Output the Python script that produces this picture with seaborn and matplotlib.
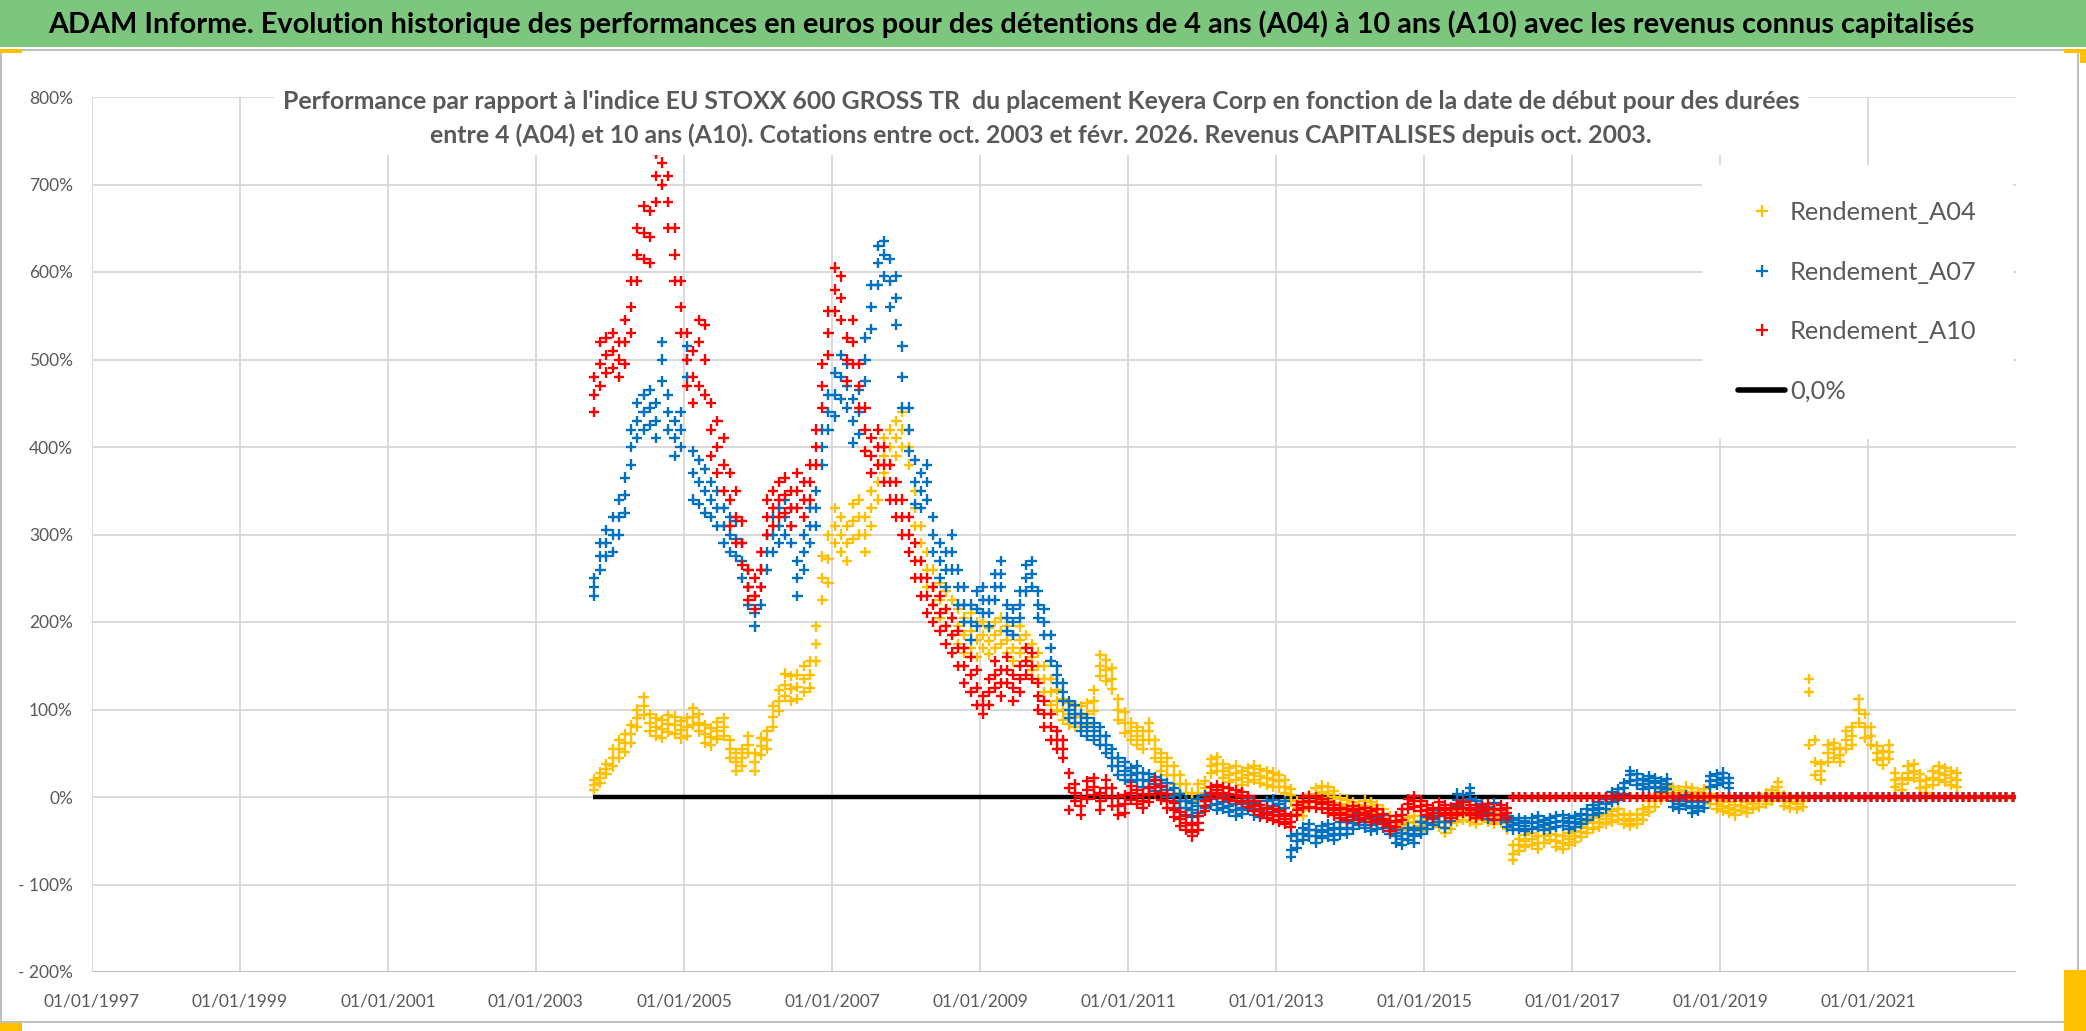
import pandas as pd
import numpy as np
import matplotlib
matplotlib.use('Agg')
import matplotlib.pyplot as plt
import matplotlib.dates as mdates
from matplotlib.lines import Line2D
from matplotlib.patches import Rectangle
import seaborn as sns

sns.set_style('white')
plt.rcParams['font.family'] = ['Lato', 'DejaVu Sans']

## textes
titre = ("ADAM Informe. Evolution historique des performances en euros pour des détentions "
         "de 4 ans (A04) à 10 ans (A10) avec les revenus connus capitalisés")
sous_titre_1 = ("Performance par rapport à l'indice EU STOXX 600 GROSS TR  du placement Keyera Corp "
                "en fonction de la date de début pour des durées")
sous_titre_2 = ("entre 4 (A04) et 10 ans (A10). Cotations entre oct. 2003 et févr. 2026. "
                "Revenus CAPITALISES depuis oct. 2003.")

## données : une valeur par mois (en %), à partir d'oct. 2003
## a0x = milieu du nuage, a0x_bas / a0x_haut = bas et haut du nuage
debut = '2003-10-01'
a04 = [14, 22, 32,
       45, 55, 62, 72, 90, 104, 85, 80, 78, 84, 82, 77,
       80, 92, 85, 72, 69, 76, 80, 55, 40, 45, 60, 40,
       58, 65, 92, 110, 128, 124, 126, 135, 140, 175, 250, 272,
       310, 300, 290, 315, 320, 300, 330, 360, 390, 400, 410, 420,
       400, 330, 290, 260, 240, 225, 215, 205, 195, 185, 190, 180,
       185, 178, 185, 190, 180, 170, 180, 170, 160, 150, 135, 120,
       110, 100, 95, 92, 92, 95, 110, 150, 145, 135, 100, 85,
       75, 70, 65, 75, 55, 40, 35, 25, 15, 5, -5, 5,
       10, 35, 38, 30, 25, 28, 22, 25, 28, 24, 22, 20,
       18, 12, 2, -12, -15, -5, 3, 6, 4, 0, -8, -10,
       -12, -15, -10, -12, -15, -20, -28, -35, -32, -30, -28, -33,
       -30, -25, -28, -35, -30, -22, -20, -22, -25, -20, -22, -25,
       -24, -30, -65, -55, -50, -48, -52, -45, -42, -50, -52, -48,
       -45, -40, -35, -30, -28, -25, -22, -20, -25, -27, -25, -20,
       -11, -5, 3, 8, 5, 2, 6, 4, 0, 3, -2, -8,
       -10, -12, -15, -10, -12, -8, -5, -2, 2, 11, -4, -6,
       -8, -5, 120, 40, 30, 50, 55, 48, 65, 70, 100, 80,
       70, 50, 45, 52, 20, 15, 28, 30, 18, 12, 22, 27,
       25, 22, 20, 0, 0, 0, 0, 0, 0, 0, 0, 0]
a04_bas = [8, 16, 26,
           35, 45, 52, 62, 80, 94, 75, 70, 68, 74, 72, 67,
           70, 82, 75, 62, 59, 66, 70, 45, 30, 35, 50, 30,
           48, 55, 80, 98, 115, 110, 112, 120, 125, 155, 225, 245,
           290, 280, 270, 295, 300, 280, 310, 340, 370, 380, 390, 400,
           380, 310, 270, 240, 220, 205, 195, 185, 175, 165, 170, 160,
           170, 163, 170, 175, 165, 155, 165, 155, 145, 135, 120, 105,
           98, 88, 83, 80, 80, 83, 98, 138, 133, 123, 88, 73,
           65, 60, 55, 65, 45, 30, 25, 15, 5, -5, -15, -5,
           2, 27, 30, 22, 17, 20, 14, 17, 20, 16, 14, 12,
           11, 5, -5, -19, -22, -12, -4, -1, -3, -7, -15, -17,
           -18, -21, -16, -18, -21, -26, -34, -41, -38, -36, -34, -39,
           -36, -31, -34, -41, -36, -28, -26, -28, -31, -26, -28, -31,
           -30, -37, -72, -62, -57, -55, -59, -52, -49, -57, -59, -55,
           -51, -46, -41, -36, -34, -31, -28, -26, -31, -33, -31, -26,
           -17, -11, -3, 2, -1, -4, 0, -2, -6, -3, -8, -14,
           -16, -18, -21, -16, -18, -14, -11, -8, -4, 5, -10, -12,
           -14, -11, 60, 25, 20, 40, 45, 40, 55, 60, 85, 68,
           60, 42, 37, 44, 12, 8, 20, 22, 10, 5, 14, 19,
           17, 14, 12, 0, 0, 0, 0, 0, 0, 0, 0, 0]
a04_haut = [20, 28, 38,
            55, 65, 72, 82, 100, 114, 95, 90, 88, 94, 92, 87,
            90, 102, 95, 82, 79, 86, 90, 65, 50, 55, 70, 50,
            68, 75, 104, 122, 141, 138, 140, 150, 155, 195, 275, 299,
            330, 320, 310, 335, 340, 320, 350, 380, 410, 420, 430, 440,
            420, 350, 310, 280, 260, 245, 235, 225, 215, 205, 210, 200,
            200, 193, 200, 205, 195, 185, 195, 185, 175, 165, 150, 135,
            122, 112, 107, 104, 104, 107, 122, 162, 157, 147, 112, 97,
            85, 80, 75, 85, 65, 50, 45, 35, 25, 15, 5, 15,
            18, 43, 46, 38, 33, 36, 30, 33, 36, 32, 30, 28,
            25, 19, 9, -5, -8, 2, 10, 13, 11, 7, -1, -3,
            -6, -9, -4, -6, -9, -14, -22, -29, -26, -24, -22, -27,
            -24, -19, -22, -29, -24, -16, -14, -16, -19, -14, -16, -19,
            -18, -23, -55, -48, -43, -41, -45, -38, -35, -43, -45, -41,
            -39, -34, -29, -24, -22, -19, -16, -14, -19, -21, -19, -14,
            -5, 1, 9, 14, 11, 8, 12, 10, 6, 9, 4, -2,
            -4, -6, -9, -4, -6, -2, 1, 4, 8, 17, 2, 0,
            -2, 1, 135, 65, 38, 60, 62, 56, 75, 80, 112, 95,
            80, 58, 53, 60, 28, 22, 36, 38, 26, 19, 30, 35,
            33, 30, 28, 0, 0, 0, 0, 0, 0, 0, 0, 0]
a07 = [240, 275, 290,
       300, 320, 345, 400, 430, 440, 445, 430, 500, 440, 410, 420,
       500, 370, 360, 350, 340, 330, 310, 300, 295, 270, 240, 210,
       240, 280, 300, 310, 320, 310, 250, 280, 310, 330, 400, 440,
       460, 480, 470, 430, 440, 500, 560, 610, 620, 590, 570, 480,
       420, 360, 350, 360, 300, 270, 260, 280, 240, 220, 200, 215,
       225, 210, 240, 255, 205, 200, 220, 250, 255, 220, 200, 170,
       140, 120, 100, 95, 85, 80, 75, 70, 60, 45, 35, 30,
       25, 28, 20, 18, 15, 12, 8, 2, -5, -12, -15, -10,
       -5, -2, -8, -6, -10, -15, -12, -8, -14, -16, -12, -10,
       -15, -12, -60, -50, -42, -38, -45, -40, -38, -42, -36, -35,
       -30, -25, -28, -32, -30, -28, -35, -45, -48, -42, -45, -35,
       -30, -25, -22, -28, -20, -3, -5, 5, -12, -15, -18, -14,
       -20, -28, -32, -30, -33, -30, -28, -32, -30, -28, -27, -30,
       -28, -25, -20, -15, -12, -8, 0, 3, 10, 25, 20, 15,
       18, 16, 12, 15, -5, -8, -4, -12, -10, -6, 18, 20,
       22, 16, 0, 0, 0, 0, 0, 0, 0, 0, 0, 0,
       0, 0, 0, 0, 0, 0, 0, 0, 0, 0, 0, 0,
       0, 0, 0, 0, 0, 0, 0, 0, 0, 0, 0, 0,
       0, 0, 0, 0, 0, 0, 0, 0, 0, 0, 0, 0]
a07_bas = [230, 260, 275,
           280, 300, 325, 380, 410, 420, 425, 410, 475, 420, 390, 400,
           480, 340, 335, 325, 320, 310, 290, 280, 275, 250, 220, 195,
           220, 260, 280, 290, 300, 290, 230, 260, 290, 310, 380, 420,
           435, 455, 445, 405, 415, 475, 535, 585, 595, 560, 540, 445,
           395, 335, 330, 340, 280, 250, 240, 260, 220, 200, 180, 195,
           210, 195, 225, 240, 190, 185, 205, 235, 240, 205, 185, 155,
           130, 110, 90, 85, 75, 70, 65, 60, 50, 35, 25, 20,
           17, 20, 12, 10, 7, 4, 0, -6, -13, -20, -23, -18,
           -12, -9, -15, -13, -17, -22, -19, -15, -21, -23, -19, -17,
           -22, -19, -68, -58, -49, -45, -52, -47, -45, -49, -43, -42,
           -37, -32, -35, -39, -37, -35, -42, -52, -55, -49, -52, -42,
           -37, -32, -29, -35, -27, -10, -12, -2, -19, -22, -25, -21,
           -26, -34, -38, -36, -39, -36, -34, -38, -36, -34, -33, -36,
           -34, -31, -26, -21, -18, -14, -6, -3, 4, 18, 14, 9,
           12, 10, 6, 9, -11, -14, -10, -18, -16, -12, 12, 14,
           16, 10, 0, 0, 0, 0, 0, 0, 0, 0, 0, 0,
           0, 0, 0, 0, 0, 0, 0, 0, 0, 0, 0, 0,
           0, 0, 0, 0, 0, 0, 0, 0, 0, 0, 0, 0,
           0, 0, 0, 0, 0, 0, 0, 0, 0, 0, 0, 0]
a07_haut = [250, 290, 305,
            320, 340, 365, 420, 450, 460, 465, 450, 520, 460, 430, 440,
            515, 395, 385, 375, 360, 350, 330, 320, 315, 290, 260, 230,
            260, 300, 320, 330, 340, 330, 270, 300, 330, 350, 420, 460,
            485, 505, 495, 455, 465, 525, 585, 630, 635, 615, 595, 515,
            445, 385, 370, 380, 320, 290, 280, 300, 260, 240, 220, 235,
            240, 225, 255, 270, 220, 215, 235, 265, 270, 235, 215, 185,
            150, 130, 110, 105, 95, 90, 85, 80, 70, 55, 45, 40,
            33, 36, 28, 26, 23, 20, 16, 10, 3, -4, -7, -2,
            2, 5, -1, 1, -3, -8, -5, -1, -7, -9, -5, -3,
            -8, -5, -45, -42, -35, -31, -38, -33, -31, -35, -29, -28,
            -23, -18, -21, -25, -23, -21, -28, -38, -41, -35, -38, -28,
            -23, -18, -15, -21, -13, 4, 2, 10, -5, -8, -11, -7,
            -14, -22, -26, -24, -27, -24, -22, -26, -24, -22, -21, -24,
            -22, -19, -14, -9, -6, -2, 6, 9, 16, 30, 26, 21,
            24, 22, 18, 21, 1, -2, 2, -6, -4, 0, 24, 26,
            28, 22, 0, 0, 0, 0, 0, 0, 0, 0, 0, 0,
            0, 0, 0, 0, 0, 0, 0, 0, 0, 0, 0, 0,
            0, 0, 0, 0, 0, 0, 0, 0, 0, 0, 0, 0,
            0, 0, 0, 0, 0, 0, 0, 0, 0, 0, 0, 0]
a10 = [460, 495, 505,
       510, 500, 520, 560, 620, 645, 640, 710, 725, 680, 620, 560,
       500, 480, 520, 500, 420, 400, 380, 340, 320, 290, 240, 230,
       260, 320, 330, 340, 345, 330, 350, 340, 360, 400, 470, 530,
       580, 570, 500, 520, 470, 420, 390, 400, 380, 360, 340, 320,
       300, 270, 250, 230, 220, 210, 195, 185, 170, 150, 140, 125,
       105, 120, 140, 130, 145, 125, 135, 155, 150, 115, 95, 80,
       65, 55, 10, 5, -10, 8, 12, -5, 10, 0, -10, -8,
       5, 0, -5, 2, 12, 5, -5, -15, -25, -30, -40, -30,
       -10, 5, 8, 5, 4, 2, 0, -5, -10, -15, -18, -20,
       -22, -25, -28, -15, -6, -5, -6, -8, -12, -15, -18, -20,
       -16, -20, -18, -22, -20, -25, -33, -28, -20, -8, -5, -10,
       -15, -18, -12, -15, -18, -14, -12, -15, -18, -16, -14, -20,
       -15, -18, 0, 0, 0, 0, 0, 0, 0, 0, 0, 0,
       0, 0, 0, 0, 0, 0, 0, 0, 0, 0, 0, 0,
       0, 0, 0, 0, 0, 0, 0, 0, 0, 0, 0, 0,
       0, 0, 0, 0, 0, 0, 0, 0, 0, 0, 0, 0,
       0, 0, 0, 0, 0, 0, 0, 0, 0, 0, 0, 0,
       0, 0, 0, 0, 0, 0, 0, 0, 0, 0, 0, 0,
       0, 0, 0, 0, 0, 0, 0, 0, 0, 0, 0, 0]
a10_bas = [440, 470, 485,
           490, 480, 495, 530, 590, 615, 610, 680, 700, 650, 590, 530,
           470, 450, 470, 460, 390, 370, 350, 310, 290, 265, 225, 215,
           240, 300, 310, 320, 325, 310, 330, 320, 340, 380, 445, 505,
           555, 545, 475, 495, 445, 395, 370, 380, 360, 340, 320, 300,
           280, 250, 230, 210, 200, 190, 175, 165, 150, 130, 120, 105,
           95, 105, 125, 115, 130, 110, 120, 140, 135, 100, 80, 65,
           55, 45, -15, -5, -20, -2, 2, -15, 0, -10, -20, -18,
           -3, -8, -13, -6, 4, -3, -13, -23, -33, -38, -45, -38,
           -16, -1, 2, -1, -2, -4, -6, -11, -16, -21, -24, -26,
           -28, -31, -34, -21, -12, -11, -12, -14, -18, -21, -24, -26,
           -22, -26, -24, -28, -26, -31, -39, -34, -26, -14, -11, -16,
           -21, -24, -18, -21, -24, -20, -18, -21, -24, -22, -20, -26,
           -21, -24, 0, 0, 0, 0, 0, 0, 0, 0, 0, 0,
           0, 0, 0, 0, 0, 0, 0, 0, 0, 0, 0, 0,
           0, 0, 0, 0, 0, 0, 0, 0, 0, 0, 0, 0,
           0, 0, 0, 0, 0, 0, 0, 0, 0, 0, 0, 0,
           0, 0, 0, 0, 0, 0, 0, 0, 0, 0, 0, 0,
           0, 0, 0, 0, 0, 0, 0, 0, 0, 0, 0, 0,
           0, 0, 0, 0, 0, 0, 0, 0, 0, 0, 0, 0]
a10_haut = [480, 520, 525,
            530, 520, 545, 590, 650, 675, 670, 735, 740, 710, 650, 590,
            530, 510, 545, 540, 450, 430, 410, 370, 350, 315, 260, 250,
            280, 340, 350, 360, 365, 350, 370, 360, 380, 420, 495, 555,
            605, 595, 525, 545, 495, 445, 410, 420, 400, 380, 360, 340,
            320, 290, 270, 250, 240, 230, 215, 205, 190, 170, 160, 145,
            115, 135, 155, 145, 160, 140, 150, 170, 165, 130, 110, 95,
            75, 65, 27, 15, 0, 18, 22, 5, 20, 10, 0, 2,
            13, 8, 3, 10, 20, 13, 3, -7, -17, -22, -32, -22,
            -4, 11, 14, 11, 10, 8, 6, 1, -4, -9, -12, -14,
            -16, -19, -22, -9, 0, 1, 0, -2, -6, -9, -12, -14,
            -10, -14, -12, -16, -14, -19, -27, -22, -14, -2, 1, -4,
            -9, -12, -6, -9, -12, -8, -6, -9, -12, -10, -8, -14,
            -9, -12, 0, 0, 0, 0, 0, 0, 0, 0, 0, 0,
            0, 0, 0, 0, 0, 0, 0, 0, 0, 0, 0, 0,
            0, 0, 0, 0, 0, 0, 0, 0, 0, 0, 0, 0,
            0, 0, 0, 0, 0, 0, 0, 0, 0, 0, 0, 0,
            0, 0, 0, 0, 0, 0, 0, 0, 0, 0, 0, 0,
            0, 0, 0, 0, 0, 0, 0, 0, 0, 0, 0, 0,
            0, 0, 0, 0, 0, 0, 0, 0, 0, 0, 0, 0]
series = ['Rendement_A04', 'Rendement_A07', 'Rendement_A10']
couleurs = ['#FFC000', '#0070C0', '#FF0000']
label_zero = '0,0%'
zero_debut, zero_fin = '2003-10-10', '2022-12-31'
annees_ticks = [1997, 1999, 2001, 2003, 2005, 2007, 2009, 2011, 2013, 2015, 2017, 2019, 2021]
y_ticks = [-200, -100, 0, 100, 200, 300, 400, 500, 600, 700, 800]

frames = []
for nom, groupe in zip(series, [(a04, a04_bas, a04_haut), (a07, a07_bas, a07_haut), (a10, a10_bas, a10_haut)]):
    for vals in groupe:
        dates = pd.date_range(debut, periods=len(vals), freq='MS') + pd.Timedelta(days=14)
        frames.append(pd.DataFrame({'date': dates, 'perf': vals, 'serie': nom}))
df = pd.concat(frames, ignore_index=True)

## figure (2086 x 1031 px)
W, H = 2086, 1031
fig = plt.figure(figsize=(W / 100, H / 100), dpi=100)
rend = fig.canvas.get_renderer()
gris = '#595959'
PX = 100 / 72   # pixels par point


def taille_pour(texte, largeur_px, poids='normal'):
    # taille de police (pt) pour que le texte fasse largeur_px de large
    t = fig.text(0, 0, texte, fontsize=10, fontweight=poids)
    larg = t.get_window_extent(renderer=rend).width
    t.remove()
    return 10 * largeur_px / larg


fs_titre = taille_pour(titre, 1935, 'bold')
fs_sous = taille_pour(sous_titre_1, 1520, 'bold')
fs_ticks = taille_pour('01/01/1997', 96)
fs_leg = taille_pour('Rendement_A04', 187)

# bandeau vert du titre, cadre du graphique et poignées de sélection
fig.patches.append(Rectangle((0, 1 - 47 / H), 1, 47 / H, transform=fig.transFigure,
                             facecolor='#7CC67E', edgecolor='none', zorder=0))
fig.patches.append(Rectangle((1 / W, 1 - 1022 / H), 2077 / W, (1022 - 50) / H, transform=fig.transFigure,
                             fill=False, edgecolor='#BFBFBF', lw=1.5, zorder=0))
for x0, y0, w0, h0 in [(0, 49, 22, 4), (2064, 49, 22, 4), (2080, 49, 6, 14),
                       (2064, 970, 22, 61), (0, 1023, 22, 8)]:
    fig.patches.append(Rectangle((x0 / W, 1 - (y0 + h0) / H), w0 / W, h0 / H, transform=fig.transFigure,
                                 facecolor='#FFC000', edgecolor='none', zorder=1))
fig.text(1011 / W, 1 - 24 / H, titre, ha='center', va='center', fontsize=fs_titre,
         fontweight='bold', color='black')

ax = fig.add_axes([92 / W, 1 - 972 / H, (2016 - 92) / W, (972 - 97) / H])
ax.hlines(0, pd.Timestamp(zero_debut), pd.Timestamp(zero_fin), color='black', lw=3.2, zorder=2)
sns.scatterplot(data=df, x='date', y='perf', hue='serie', palette=dict(zip(series, couleurs)),
                marker='+', s=55, linewidth=1.7, legend=False, ax=ax, zorder=3)

ax.set_xlim(pd.Timestamp('1997-01-01'), pd.Timestamp('2023-01-01'))
ax.set_ylim(-200, 800)
ax.set_xticks([pd.Timestamp(f'{a}-01-01') for a in annees_ticks])
ax.xaxis.set_major_formatter(mdates.DateFormatter('%d/%m/%Y'))
ax.set_yticks(y_ticks)
ax.set_yticklabels([f'{v}%' if v >= 0 else f'- {-v}%' for v in y_ticks])
ax.grid(True, color='#D9D9D9', lw=1.4)
ax.set_axisbelow(True)
for sp in ax.spines.values():
    sp.set_visible(False)
ax.axhline(-200, color='#BFBFBF', lw=2.2, zorder=1)
ax.tick_params(axis='both', length=0, labelsize=fs_ticks, labelcolor=gris)
ax.tick_params(axis='x', pad=(1003 - 972) / PX - fs_ticks * 0.55)
ax.tick_params(axis='y', pad=19 / PX)
ax.set_xlabel('')
ax.set_ylabel('')

# sous-titre avec fond blanc par-dessus la grille
fig.text(1041 / W, 1 - 118.5 / H, sous_titre_1 + '\n' + sous_titre_2, ha='center', va='center',
         multialignment='center', fontsize=fs_sous, fontweight='bold', color=gris,
         linespacing=1.2 * 37 / (fs_sous * PX * 1.2),
         bbox=dict(facecolor='white', edgecolor='none', pad=6), zorder=5)

# légende
fpx = fs_leg * PX
poignees = [Line2D([], [], marker='+', color=c, ls='none', markersize=8, mew=1.6) for c in couleurs]
poignees.append(Line2D([], [], color='black', lw=4))
fig.legend(poignees, series + [label_zero], loc='upper left', bbox_to_anchor=(1702 / W, 1 - 165 / H),
           frameon=True, facecolor='white', edgecolor='none', framealpha=1, fontsize=fs_leg,
           labelcolor=gris, handlelength=47 / fpx, handletextpad=5 / fpx,
           labelspacing=(67 - 1.2 * fpx) / fpx, borderpad=36 / fpx, borderaxespad=0)

plt.savefig('out.png', dpi=100)
